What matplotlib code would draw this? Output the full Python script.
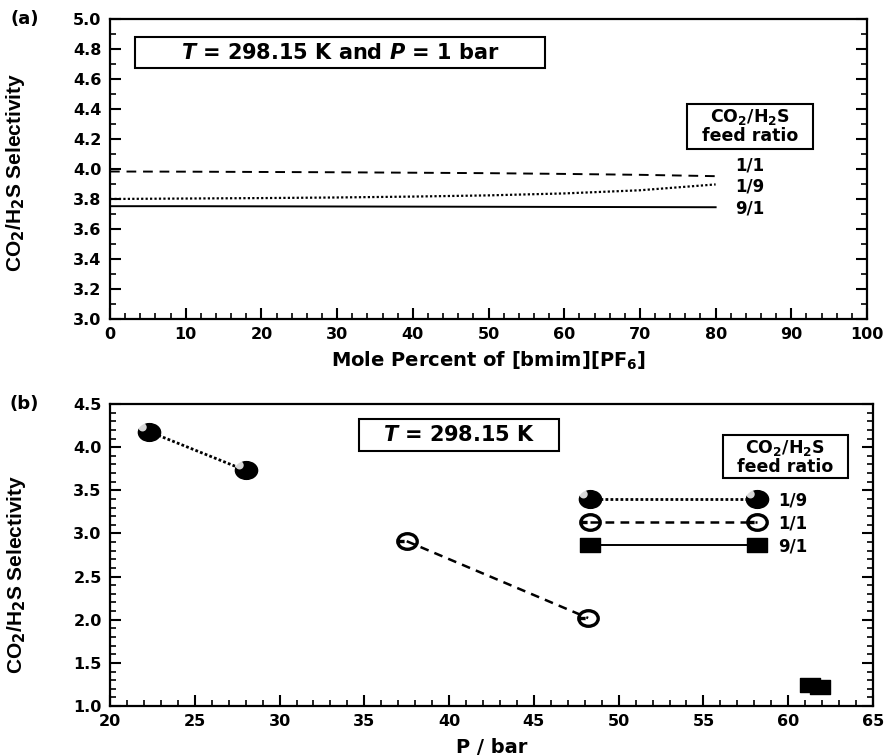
import numpy as np
import matplotlib
matplotlib.use('Agg')
import matplotlib.pyplot as plt
from matplotlib.path import Path
from matplotlib.patches import Rectangle
from matplotlib.ticker import MultipleLocator
from matplotlib.legend_handler import HandlerTuple

plt.rcParams['font.family'] = ['DejaVu Sans']
plt.rcParams['font.weight'] = 'bold'
plt.rcParams['mathtext.fontset'] = 'custom'
plt.rcParams['mathtext.rm'] = 'DejaVu Sans:bold'
plt.rcParams['mathtext.it'] = 'DejaVu Sans:italic:bold'
plt.rcParams['mathtext.bf'] = 'DejaVu Sans:bold'

# (a) selectivity vs mole percent of [bmim][PF6]
mole_pct = [0, 10, 20, 30, 40, 50, 60, 70, 80]
sel_a_11 = [3.983, 3.982, 3.980, 3.978, 3.975, 3.972, 3.967, 3.961, 3.952]
sel_a_19 = [3.800, 3.803, 3.806, 3.810, 3.816, 3.824, 3.837, 3.858, 3.897]
sel_a_91 = [3.752, 3.752, 3.751, 3.750, 3.749, 3.748, 3.747, 3.746, 3.745]

# (b) selectivity vs pressure
p_19 = [22.3, 28.0]
s_19 = [4.18, 3.73]
p_11 = [37.5, 48.2]
s_11 = [2.91, 2.02]
p_91 = [61.3, 61.9]
s_91 = [1.24, 1.22]

ratio_labels = ['1/9', '1/1', '9/1']

# marker shapes
circ = Path.unit_circle()
ellipse = Path(circ.vertices * [1.0, 0.8], circ.codes)
shine = Path.circle(center=(-0.4, 0.3), radius=0.24)
open_ring = Path.make_compound_path(
    ellipse, Path([(-0.95, 0.0), (-0.3, 0.0)], [Path.MOVETO, Path.LINETO]))
rect = Path([(-1, -0.7), (1, -0.7), (1, 0.7), (-1, 0.7), (-1, -0.7)],
            [Path.MOVETO, Path.LINETO, Path.LINETO, Path.LINETO, Path.CLOSEPOLY])

fig = plt.figure(figsize=(8.9, 7.56), dpi=100)
ax1 = fig.add_axes([0.1236, 0.578, 0.8506, 0.397])
ax2 = fig.add_axes([0.1236, 0.0661, 0.8573, 0.3995])


def style_axis(ax):
    for s in ax.spines.values():
        s.set_linewidth(1.6)
    ax.tick_params(which='both', direction='in', top=False, right=True,
                   labelsize=11.5, pad=6)
    ax.tick_params(which='major', length=8, width=1.5)
    ax.tick_params(which='minor', length=4.5, width=1.2)
    for lab in ax.get_xticklabels() + ax.get_yticklabels():
        lab.set_fontweight('bold')


ylab = 'CO$_2$/H$_2$S Selectivity'
yfont = dict(family='Liberation Sans', fontsize=15, fontweight='bold')

# ---- panel (a)
ax1.plot(mole_pct, sel_a_11, color='black', lw=1.4, ls=(0, (5, 3.5)))
ax1.plot(mole_pct, sel_a_19, color='black', lw=1.6, ls=(0, (1, 1)))
ax1.plot(mole_pct, sel_a_91, color='black', lw=1.4, ls='-')
ax1.set_xlim(0, 100)
ax1.set_ylim(3.0, 5.0)
ax1.xaxis.set_major_locator(MultipleLocator(10))
ax1.xaxis.set_minor_locator(MultipleLocator(2))
ax1.yaxis.set_major_locator(MultipleLocator(0.2))
ax1.yaxis.set_minor_locator(MultipleLocator(0.1))
ax1.yaxis.set_major_formatter('{x:.1f}')
style_axis(ax1)
ax1.set_xlabel('Mole Percent of [bmim][PF$_6$]', fontsize=14,
               fontweight='bold', labelpad=5)
ax1.set_ylabel(ylab, **yfont)
ax1.yaxis.set_label_coords(-0.11, 0.49)

ax1.add_patch(Rectangle((0.033, 0.837), 0.542, 0.103, transform=ax1.transAxes,
                        fill=False, lw=1.5, ec='black'))
ax1.text(0.304, 0.888, '$\\it{T}$ = 298.15 K and $\\it{P}$ = 1 bar',
         transform=ax1.transAxes, ha='center', va='center', fontsize=15)
ax1.add_patch(Rectangle((0.762, 0.567), 0.166, 0.15, transform=ax1.transAxes,
                        fill=False, lw=1.5, ec='black'))
ax1.text(0.845, 0.642, 'CO$_2$/H$_2$S\nfeed ratio', transform=ax1.transAxes,
         ha='center', va='center', fontsize=12.5, linespacing=1.0)
for lab, yv in zip(['1/1', '1/9', '9/1'], [4.025, 3.885, 3.735]):
    ax1.text(82.6, yv, lab, ha='left', va='center', fontsize=12)
ax1.text(-0.132, 1.0, '(a)', transform=ax1.transAxes, ha='left',
         va='center', fontsize=13)

# ---- panel (b)
l19, = ax2.plot(p_19, s_19, color='black', lw=2.0, ls=(0, (1, 0.8)),
                marker=ellipse, ms=16, mfc='black', mec='black')
h19, = ax2.plot(p_19, s_19, ls='none', marker=shine, ms=16,
                mfc='white', mec='none', alpha=0.85)
l11, = ax2.plot(p_11, s_11, color='black', lw=1.8, ls=(0, (3.5, 2.5)),
                marker=open_ring, ms=14, mfc='none', mec='black', mew=2.4)
l91, = ax2.plot(p_91, s_91, color='black', lw=1.4, ls='-',
                marker=rect, ms=14, mfc='black', mec='black')
ax2.set_xlim(20, 65)
ax2.set_ylim(1.0, 4.5)
ax2.xaxis.set_major_locator(MultipleLocator(5))
ax2.xaxis.set_minor_locator(MultipleLocator(1))
ax2.yaxis.set_major_locator(MultipleLocator(0.5))
ax2.yaxis.set_minor_locator(MultipleLocator(0.1))
ax2.yaxis.set_major_formatter('{x:.1f}')
style_axis(ax2)
ax2.set_xlabel('P / bar', fontsize=14, fontweight='bold', labelpad=6)
ax2.set_ylabel(ylab, **yfont)
ax2.yaxis.set_label_coords(-0.108, 0.434)

ax2.add_patch(Rectangle((0.326, 0.844), 0.262, 0.106, transform=ax2.transAxes,
                        fill=False, lw=1.5, ec='black'))
ax2.text(0.457, 0.897, '$\\it{T}$ = 298.15 K', transform=ax2.transAxes,
         ha='center', va='center', fontsize=15)
ax2.add_patch(Rectangle((0.803, 0.755), 0.164, 0.142, transform=ax2.transAxes,
                        fill=False, lw=1.5, ec='black'))
ax2.text(0.885, 0.826, 'CO$_2$/H$_2$S\nfeed ratio', transform=ax2.transAxes,
         ha='center', va='center', fontsize=12.5, linespacing=1.0)
ax2.legend([(l19, h19), l11, l91], ratio_labels,
           handler_map={tuple: HandlerTuple(ndivide=1, pad=0)},
           numpoints=2, handlelength=10.6, handletextpad=1.0,
           labelspacing=0.3, frameon=False,
           prop={'weight': 'bold', 'size': 12},
           loc='center left', bbox_to_anchor=(0.603, 0.606))
ax2.text(-0.132, 1.0, '(b)', transform=ax2.transAxes, ha='left',
         va='center', fontsize=13)

fig.savefig('out.png', dpi=100)
